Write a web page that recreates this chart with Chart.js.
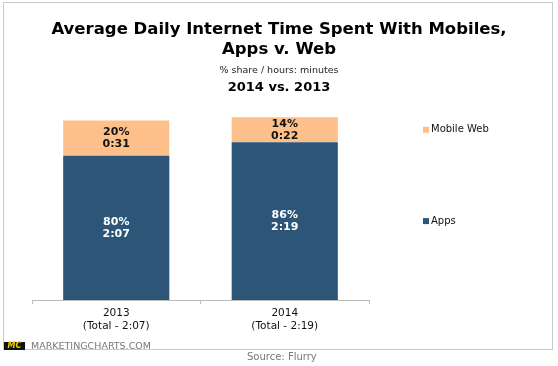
<!DOCTYPE html>
<html>
<head>
<meta charset="utf-8">
<script src="https://cdn.jsdelivr.net/npm/chart.js@4.4.1/dist/chart.umd.min.js"></script>
<style>
  body { margin: 0; background: #fff; font-family: "DejaVu Sans", Verdana, sans-serif; }
  #wrap { position: relative; width: 558px; height: 366px; overflow: hidden; }
  .frame { position: absolute; left: 3px; top: 2px; width: 550px; height: 348px; box-sizing: border-box; border: 1px solid #cbcbcb; }
  .txt { position: absolute; left: 0; width: 558px; text-align: center; color: #000; white-space: nowrap; }
  #title { top: 19px; font-size: 16.5px; font-weight: bold; line-height: 20px; }
  #sub { top: 64px; font-size: 9.5px; color: #222; }
  #years { top: 79px; font-size: 13px; font-weight: bold; }
  #chart { position: absolute; left: 0; top: 0; }
  #logo { position: absolute; left: 4px; top: 342px; width: 21px; height: 8px; background: #111; color: #f2d100; font: italic bold 8px "DejaVu Sans", sans-serif; line-height: 8px; text-align: center; }
  #site { position: absolute; left: 31px; top: 340px; font-size: 9.5px; color: #777; }
  #source { position: absolute; left: 247px; top: 351px; font-size: 10px; color: #777; }
</style>
</head>
<body>
<div id="wrap">
  <div class="frame"></div>
  <canvas id="chart" width="558" height="366"></canvas>
  <div class="txt" id="title">Average Daily Internet Time Spent With Mobiles,<br>Apps v. Web</div>
  <div class="txt" id="sub">% share / hours: minutes</div>
  <div class="txt" id="years">2014 vs. 2013</div>
  <div id="logo">MC</div>
  <div id="site">MARKETINGCHARTS.COM</div>
  <div id="source">Source: Flurry</div>
</div>
<script>
// data (minutes per day)
const categories = [["2013", "(Total - 2:07)"], ["2014", "(Total - 2:19)"]];
const appsMinutes = [127, 139];
const webMinutes = [31, 22];
const appsShare = [80, 86];
const webShare = [20, 14];

const appsColor = "#2c5578";
const webColor = "#fdc08b";

function fmtTime(m) {
  const mm = m % 60;
  return Math.floor(m / 60) + ":" + (mm < 10 ? "0" : "") + mm;
}

// labels inside each segment
const segmentLabels = {
  id: "segmentLabels",
  afterDatasetsDraw(chart) {
    const ctx = chart.ctx;
    ctx.save();
    ctx.font = "bold 11px 'DejaVu Sans'";
    ctx.textAlign = "center";
    ctx.textBaseline = "middle";
    chart.data.datasets.forEach((ds, di) => {
      const meta = chart.getDatasetMeta(di);
      meta.data.forEach((bar, i) => {
        const mid = (bar.y + bar.base) / 2;
        ctx.fillStyle = ds.labelColor;
        ctx.fillText(ds.share[i] + "%", bar.x, mid - 6);
        ctx.fillText(fmtTime(ds.data[i]), bar.x, mid + 6);
      });
    });
    ctx.restore();
  }
};

// legend next to the last bar's segments
const sideLegend = {
  id: "sideLegend",
  afterDraw(chart) {
    const ctx = chart.ctx;
    const last = chart.data.labels.length - 1;
    ctx.save();
    ctx.font = "10px 'DejaVu Sans'";
    ctx.textBaseline = "middle";
    chart.data.datasets.forEach((ds, di) => {
      const bar = chart.getDatasetMeta(di).data[last];
      const y = (bar.y + bar.base) / 2;
      ctx.fillStyle = ds.backgroundColor;
      ctx.fillRect(423, y - 3, 6, 6);
      ctx.fillStyle = "#111";
      ctx.fillText(ds.label, 431, y);
    });
    ctx.restore();
  }
};

new Chart(document.getElementById("chart"), {
  type: "bar",
  data: {
    labels: categories,
    datasets: [
      { label: "Apps", data: appsMinutes, share: appsShare, backgroundColor: appsColor, labelColor: "#fff" },
      { label: "Mobile Web", data: webMinutes, share: webShare, backgroundColor: webColor, labelColor: "#111" }
    ]
  },
  options: {
    responsive: false,
    animation: false,
    categoryPercentage: 1,
    barPercentage: 0.63,
    layout: { padding: { top: 107, left: 32, right: 189, bottom: 16 } },
    plugins: { legend: { display: false }, tooltip: { enabled: false } },
    scales: {
      x: {
        stacked: true,
        afterFit: (s) => { s.height = 50; },
        grid: { drawOnChartArea: false, drawTicks: true, tickLength: 4, color: "#bbb" },
        border: { color: "#bbb" },
        ticks: { color: "#111", padding: 3, font: { family: "DejaVu Sans", size: 10.5 } }
      },
      y: { stacked: true, display: false, min: 0, max: 170 }
    }
  },
  plugins: [segmentLabels, sideLegend]
});
</script>
</body>
</html>
